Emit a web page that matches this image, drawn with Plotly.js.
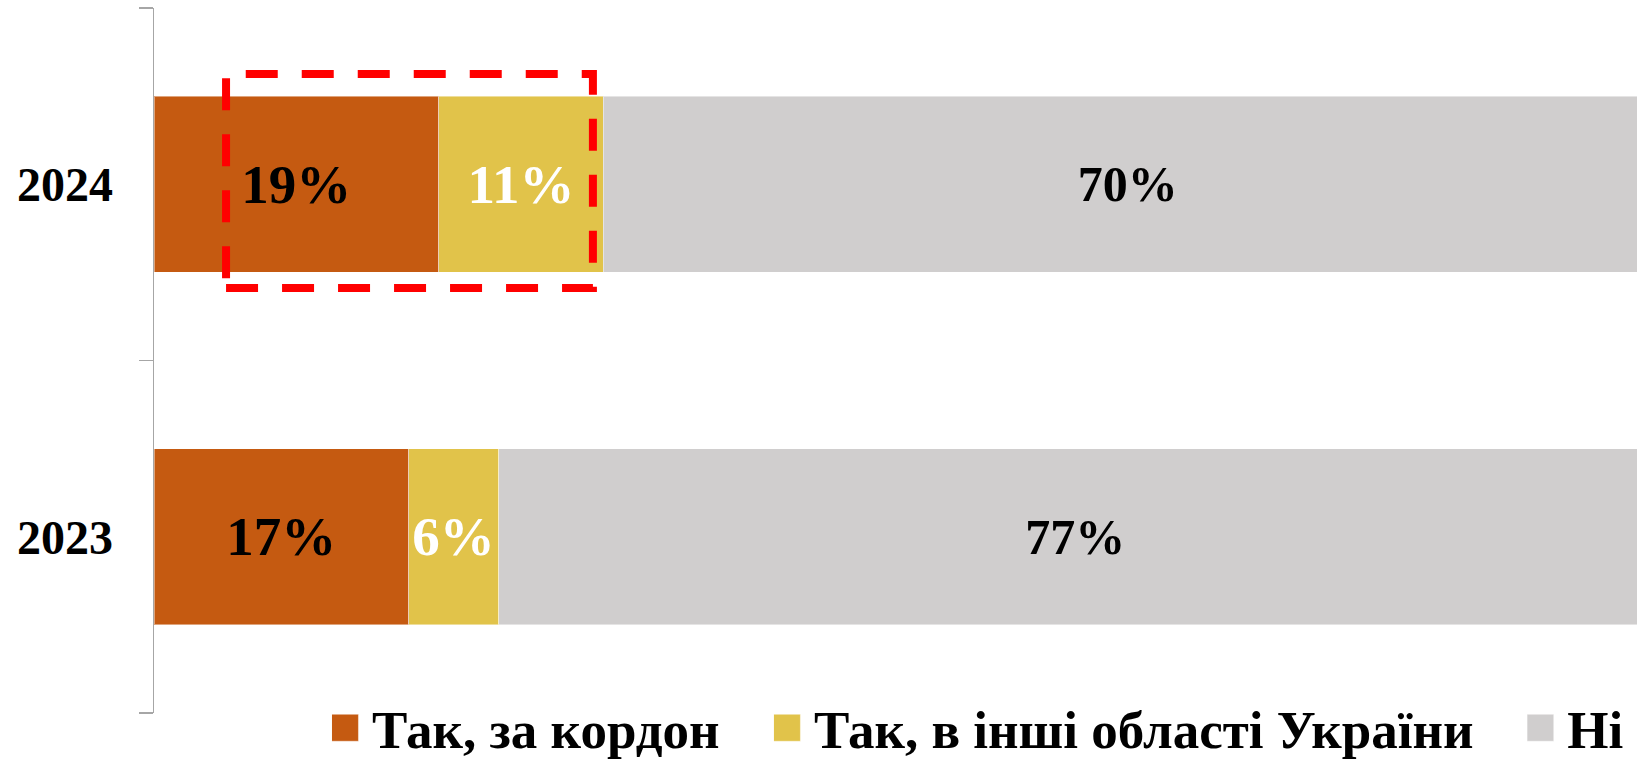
<!DOCTYPE html>
<html><head><meta charset="utf-8">
<script src="https://cdn.plot.ly/plotly-3.0.1.min.js"></script>
<style>html,body{margin:0;padding:0;background:#fff;overflow:hidden}#chart{width:1637px;height:760px}</style>
</head><body><div id="chart"></div>
<script>
const years = ['2023', '2024'];
const seriesNames = ['Так, за кордон', 'Так, в інші області України', 'Ні'];
const abroad = [17, 19];
const otherRegions = [6, 11];
const no = [77, 70];
const seriesValues = [abroad, otherRegions, no];
const colors = ['#C55A11', '#E1C34A', '#D0CECE'];
const labelColors = ['#000000', '#FFFFFF', '#000000'];
const labelSizes = [55, 55, 50];
const legendIds = ['legend', 'legend2', 'legend3'];
const legendX = [0.120, 0.418, 0.926];

const FONT = 'Liberation Serif';

const traces = seriesValues.map((vals, i) => ({
  type: 'bar',
  orientation: 'h',
  name: seriesNames[i],
  y: years,
  x: vals,
  text: vals.map(v => v + '%'),
  textposition: 'inside',
  insidetextanchor: 'middle',
  constraintext: 'none',
  textfont: {family: FONT, size: labelSizes[i], weight: 'bold', color: labelColors[i]},
  marker: {color: colors[i], line: {color: 'rgba(255,255,255,0.45)', width: 1}},
  legend: legendIds[i],
  hoverinfo: 'none'
}));

const legendBase = (x) => ({
  orientation: 'h',
  x: x, xanchor: 'left', xref: 'paper',
  y: -0.021, yanchor: 'middle', yref: 'paper',
  font: {family: FONT, size: 53, weight: 'bold', color: '#000'},
  bgcolor: 'rgba(0,0,0,0)',
  borderwidth: 0
});

const layout = {
  width: 1637, height: 760,
  margin: {l: 154, r: 0, t: 8, b: 47, autoexpand: false},
  paper_bgcolor: '#fff', plot_bgcolor: '#fff',
  font: {family: FONT},
  barmode: 'stack',
  bargap: 0.5,
  showlegend: true,
  legend: legendBase(legendX[0]),
  legend2: legendBase(legendX[1]),
  legend3: legendBase(legendX[2]),
  xaxis: {range: [0, 99], visible: false, fixedrange: true},
  yaxis: {
    type: 'category',
    categoryorder: 'array', categoryarray: years,
    range: [-0.5, 1.5],
    showline: true, linecolor: '#A6A6A6', linewidth: 1.5,
    ticks: 'outside', tickson: 'boundaries', ticklen: 14, tickcolor: '#A6A6A6', tickwidth: 1.5,
    tickfont: {family: FONT, size: 48, weight: 'bold', color: '#000'},
    ticklabelstandoff: 30,
    showgrid: false, zeroline: false, fixedrange: true
  },
  shapes: [{
    type: 'rect', xref: 'x', yref: 'y',
    x0: 4.81, x1: 29.3, y0: 0.706, y1: 1.313,
    line: {color: '#FF0000', width: 8, dash: '32px,24px'},
    fillcolor: 'rgba(0,0,0,0)'
  }]
};

function enlargeLegendSymbols(gd) {
  gd.querySelectorAll('g.legendpoints path').forEach(p => {
    p.setAttribute('d', 'M13.5,13.5H-13.5V-13.5H13.5Z');
    p.setAttribute('transform', 'translate(13,0)');
  });
}

Plotly.newPlot('chart', traces, layout, {displayModeBar: false, staticPlot: true}).then(gd => {
  enlargeLegendSymbols(gd);
  gd.on('plotly_afterplot', () => enlargeLegendSymbols(gd));
});
</script>
</body></html>
